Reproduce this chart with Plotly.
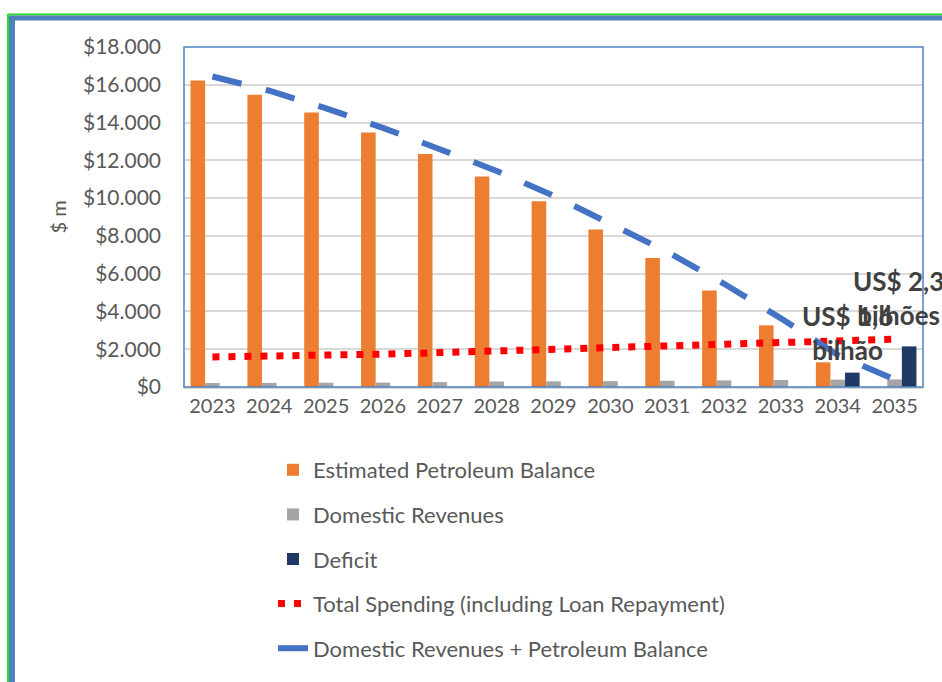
import plotly.graph_objects as go

years = ["2023", "2024", "2025", "2026", "2027", "2028", "2029",
         "2030", "2031", "2032", "2033", "2034", "2035"]
petroleum_balance = [16230, 15470, 14530, 13480, 12330, 11150, 9830,
                     8340, 6825, 5115, 3265, 1307, None]
domestic_revenues = [210, 215, 225, 235, 260, 290, 300, 310, 330, 350, 370, 390, 400]
deficit = [None, None, None, None, None, None, None, None, None, None, None, 760, 2150]
total_spending = [1590, 1620, 1670, 1740, 1820, 1900, 1990, 2070, 2160, 2260, 2350, 2440, 2530]
dom_plus_petro = [16440, 15685, 14755, 13715, 12590, 11440, 10130, 8650, 7155, 5465, 3635, 1697, 400]
label_years = ["2034", "2035"]
label_values = [760, 2150]
label_texts = ["US$ 1,6<br>bilhão", "US$ 2,3<br>bilhões"]

FONT = "Lato"
GRAY_TXT = "#595959"

fig = go.Figure()
fig.add_trace(go.Bar(x=years, y=petroleum_balance, name="Estimated Petroleum Balance",
                     marker=dict(color="#ED7D31", line=dict(width=0)), legendgroup="a"))
fig.add_trace(go.Bar(x=years, y=domestic_revenues, name="Domestic Revenues",
                     marker=dict(color="#A5A5A5", line=dict(width=0)), legendgroup="b"))
fig.add_trace(go.Bar(x=years, y=deficit, name="Deficit",
                     marker=dict(color="#203864", line=dict(width=0)), legendgroup="c"))
fig.add_trace(go.Scatter(x=years, y=total_spending, mode="lines",
                         name="Total Spending (including Loan Repayment)",
                         line=dict(color="#FF0000", width=7, dash="7px,9px"), legendgroup="d"))
fig.add_trace(go.Scatter(x=years, y=dom_plus_petro, mode="lines",
                         name="Domestic Revenues + Petroleum Balance",
                         line=dict(color="#4472C4", width=6, dash="30px,25px"), legendgroup="e"))

for yr, v, t, xs, ys in zip(label_years, label_values, label_texts, [10, 4], [5, 13]):
    fig.add_annotation(x=years.index(yr), y=v, text="<b>" + t + "</b>", showarrow=False,
                       yanchor="bottom", xanchor="center", xshift=xs, yshift=ys,
                       font=dict(family=FONT, size=26, color="#404040"))

W, H = 942, 682
L, R, T, B = 184, 19, 47, 295
pw, ph = W - L - R, H - T - B
def px(x):
    return (x - L) / pw
def py(y):
    return (H - B - y) / ph

shapes = [
    dict(type="rect", xref="paper", yref="paper", x0=0, x1=1, y0=0, y1=1,
         line=dict(color="#4F81BD", width=1.5), layer="above"),
    dict(type="line", xref="paper", yref="paper", x0=px(8), x1=px(960), y0=py(14.5), y1=py(14.5),
         line=dict(color="#22DD22", width=2)),
    dict(type="line", xref="paper", yref="paper", x0=px(8), x1=px(8), y0=py(14), y1=py(700),
         line=dict(color="#22DD22", width=2)),
    dict(type="line", xref="paper", yref="paper", x0=px(9), x1=px(960), y0=py(18), y1=py(18),
         line=dict(color="#4F81BD", width=5)),
    dict(type="line", xref="paper", yref="paper", x0=px(12), x1=px(12), y0=py(16), y1=py(700),
         line=dict(color="#4F81BD", width=6)),
]

fig.update_layout(
    width=W, height=H,
    margin=dict(l=L, r=R, t=T, b=B, autoexpand=False),
    paper_bgcolor="white", plot_bgcolor="white",
    barmode="group", bargap=0.23, bargroupgap=0,
    separators=",.",
    font=dict(family=FONT, color=GRAY_TXT),
    showlegend=True,
    legend=dict(orientation="v", x=px(273), xanchor="left", y=py(449), yanchor="top",
                font=dict(family=FONT, size=22, color=GRAY_TXT),
                tracegroupgap=13, traceorder="grouped", bgcolor="rgba(0,0,0,0)"),
    shapes=shapes,
)
fig.update_xaxes(type="category", range=[-0.5, len(years) - 0.5], showgrid=False,
                 showline=True, linecolor="#D9D9D9", linewidth=1.5,
                 ticks="", tickfont=dict(family=FONT, size=20, color=GRAY_TXT))
fig.update_yaxes(range=[0, 18000], dtick=2000, tickprefix="$", tickformat=",d",
                 showgrid=True, gridcolor="#D9D9D9", gridwidth=1.5, zeroline=False,
                 showline=False, ticks="", ticklabelstandoff=22,
                 tickfont=dict(family=FONT, size=21, color=GRAY_TXT),
                 title=dict(text="$ m", font=dict(family=FONT, size=20, color=GRAY_TXT), standoff=10))

fig.write_html("out.html")
